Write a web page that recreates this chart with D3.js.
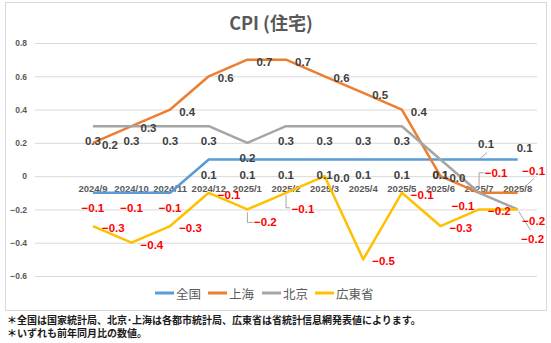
<!DOCTYPE html>
<html>
<head>
<meta charset="utf-8">
<script src="https://cdn.jsdelivr.net/npm/d3@7"></script>
<style>
  html, body { margin: 0; padding: 0; background: #fff; }
  svg { display: block; }
</style>
</head>
<body>
<svg id="chart" width="551" height="343"></svg>
<script>
// Category axis (leading blank slot keeps the first month off the left edge)
const categories = ["", "2024/9", "2024/10", "2024/11", "2024/12", "2025/1", "2025/2",
                    "2025/3", "2025/4", "2025/5", "2025/6", "2025/7", "2025/8"];
const months = categories.slice(1);

// Year-on-year CPI (housing), %
const national  = [-0.1, -0.1, -0.1, 0.1, 0.1, 0.1, 0.1, 0.1, 0.1, 0.1, 0.1, 0.1];
const shanghai  = [0.2, 0.3, 0.4, 0.6, 0.7, 0.7, 0.6, 0.5, 0.4, 0.0, -0.1, -0.1];
const beijing   = [0.3, 0.3, 0.3, 0.3, 0.2, 0.3, 0.3, 0.3, 0.3, 0.1, -0.1, -0.2];
const guangdong = [-0.3, -0.4, -0.3, -0.1, -0.2, -0.1, 0.0, -0.5, -0.1, -0.3, -0.2, -0.2];

const seriesNames = ["全国", "上海", "北京", "広東省"];
const yTicks = [-0.6, -0.4, -0.2, 0, 0.2, 0.4, 0.6, 0.8];

const title = "CPI (住宅)";
const notes = [
  "＊全国は国家統計局、北京･上海は各都市統計局、広東省は省統計信息網発表値によります。",
  "＊いずれも前年同月比の数値。"
];

// ---- styling / layout ----
const colors = ["#5b9bd5", "#ed7d31", "#a5a5a5", "#ffc000"];
const series = [national, shanghai, beijing, guangdong].map((v, i) => ({
  name: seriesNames[i], values: v, color: colors[i], key: i
}));

// default label placement per series: "below" (centered under point) or "right"
const labelMode = ["below", "right", "below", "right"];
// hand-tuned placements for crowded points: [series, monthIndex] -> centre offset + optional leader
const labelNudge = {
  "1:10": { dx: 17, dy: -20, leader: [[5, -20], [0, -20], [0, -6]] },
  "1:11": { dx: 16, dy: -22, leader: [[6, -5], [16, -14]] },
  "2:10": { dx: -16, dy: 13 },
  "2:11": { dx: 15, dy: 30, leader: [[1, 2], [13, 21]] },
  "3:11": { dx: 16, dy: 12 },
  "0:10": { dx: 7, dy: -16, leader: [[1, -1], [8, -7]] },
  "0:11": { dx: 7, dy: -12 },
  "3:4":  { dx: 18, dy: 13, leader: [[0, 3], [0, 13], [6, 13]] },
  "3:5":  { dx: 17, dy: 16, leader: [[0, 2], [0, 15], [4, 15]] }
};

const svg = d3.select("#chart");
const plot = { left: 35, right: 537, top: 43, bottom: 276 };

// outer chart frame
svg.append("rect")
  .attr("x", 5.5).attr("y", 2.5).attr("width", 541).attr("height", 308)
  .attr("fill", "#fff").attr("stroke", "#d9d9d9").attr("stroke-width", 1);

const x = d3.scaleBand().domain(categories).range([plot.left, plot.right]).padding(0);
const cx = m => x(m) + x.bandwidth() / 2;
const y = d3.scaleLinear().domain([-0.6, 0.8]).range([plot.bottom, plot.top]);

// gridlines + y tick labels
const yAxis = d3.axisLeft(y)
  .tickValues(yTicks)
  .tickSize(-(plot.right - plot.left))
  .tickPadding(8)
  .tickFormat(d => d === 0 ? "0" : d3.format(".1f")(d));
const gy = svg.append("g").attr("transform", `translate(${plot.left},0)`).call(yAxis);
gy.select(".domain").remove();
gy.selectAll(".tick line").attr("stroke", "#d9d9d9").attr("stroke-width", 1);
gy.selectAll(".tick text")
  .attr("fill", "#595959")
  .attr("font-family", "'Liberation Sans', Arial, sans-serif")
  .attr("font-weight", "bold")
  .attr("font-size", 8.5);

// title
svg.append("text")
  .attr("x", 271).attr("y", 22)
  .attr("text-anchor", "middle").attr("dominant-baseline", "central")
  .attr("fill", "#595959")
  .attr("font-family", "'Noto Sans CJK JP', sans-serif")
  .attr("font-weight", "bold").attr("font-size", 18)
  .text(title);

// category labels sit next to the zero line
svg.append("g").selectAll("text").data(months).join("text")
  .attr("x", d => cx(d)).attr("y", y(0) + 12)
  .attr("text-anchor", "middle").attr("dominant-baseline", "central")
  .attr("fill", "#595959")
  .attr("font-family", "'Liberation Sans', Arial, sans-serif")
  .attr("font-weight", "bold").attr("font-size", 9.5)
  .text(d => d);

// lines
const line = d3.line().x((d, i) => cx(months[i])).y(d => y(d));
svg.append("g").selectAll("path").data(series).join("path")
  .attr("d", s => line(s.values))
  .attr("fill", "none")
  .attr("stroke", s => s.color)
  .attr("stroke-width", 2.5)
  .attr("stroke-linejoin", "round");

// data labels
const fmt = d3.format(".1f");
const lblG = svg.append("g");
series.forEach(s => {
  s.values.forEach((v, i) => {
    const px = cx(months[i]), py = y(v);
    const nudge = labelNudge[`${s.key}:${i}`];
    let tx, ty, anchor;
    if (nudge) {
      tx = px + nudge.dx; ty = py + nudge.dy; anchor = "middle";
      if (nudge.leader) {
        lblG.append("path")
          .attr("d", d3.line()(nudge.leader.map(p => [px + p[0], py + p[1]])))
          .attr("fill", "none").attr("stroke", "#a6a6a6").attr("stroke-width", 1);
      }
    } else if (labelMode[s.key] === "below") {
      tx = px; ty = py + 15; anchor = "middle";
    } else {
      tx = px + 9; ty = py + 2; anchor = "start";
    }
    lblG.append("text")
      .attr("x", tx).attr("y", ty)
      .attr("text-anchor", anchor).attr("dominant-baseline", "central")
      .attr("fill", v < 0 ? "#ff0000" : "#404040")
      .attr("font-family", "'Liberation Sans', Arial, sans-serif")
      .attr("font-weight", "bold").attr("font-size", 11.5)
      .text(fmt(v));
  });
});

// legend
const legendX = [155, 208, 262, 315];
const leg = svg.append("g");
series.forEach((s, i) => {
  const lx = legendX[i], ly = 293;
  leg.append("line")
    .attr("x1", lx).attr("x2", lx + 19).attr("y1", ly).attr("y2", ly)
    .attr("stroke", s.color).attr("stroke-width", 3);
  leg.append("text")
    .attr("x", lx + 21).attr("y", ly)
    .attr("dominant-baseline", "central")
    .attr("fill", "#595959")
    .attr("font-family", "'Noto Sans CJK JP', sans-serif")
    .attr("font-size", 12.5)
    .text(s.name);
});

// footnotes
svg.append("g").selectAll("text").data(notes).join("text")
  .attr("x", 7).attr("y", (d, i) => 319 + i * 13)
  .attr("dominant-baseline", "central")
  .attr("fill", "#1a1a1a")
  .attr("font-family", "'Noto Sans CJK JP', sans-serif")
  .attr("font-weight", "bold").attr("font-size", 10)
  .text(d => d);
</script>
</body>
</html>
